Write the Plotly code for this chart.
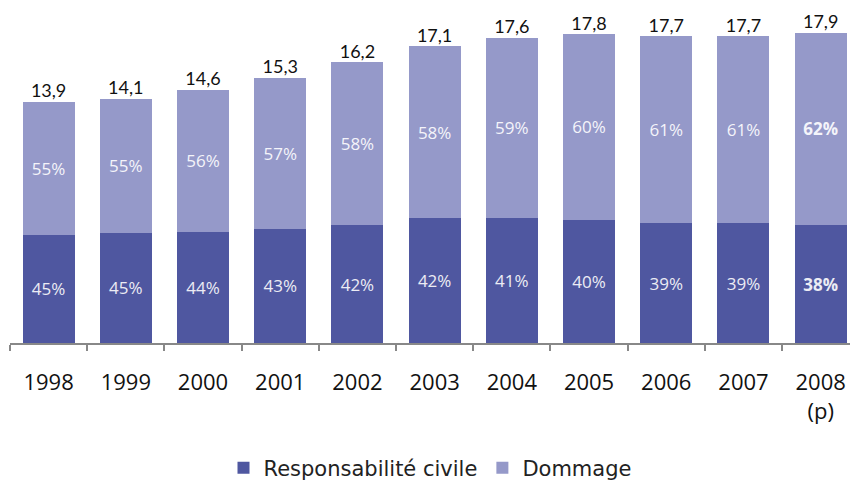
import plotly.graph_objects as go

years = ["1998", "1999", "2000", "2001", "2002", "2003", "2004", "2005", "2006", "2007", "2008"]
tick_labels = ["1998", "1999", "2000", "2001", "2002", "2003", "2004", "2005", "2006", "2007", "2008<br>(p)"]
totals = [13.9, 14.1, 14.6, 15.3, 16.2, 17.1, 17.6, 17.8, 17.7, 17.7, 17.9]
pct_rc = [45, 45, 44, 43, 42, 42, 41, 40, 39, 39, 38]
pct_dom = [55, 55, 56, 57, 58, 58, 59, 60, 61, 61, 62]

rc_vals = [t * p / 100 for t, p in zip(totals, pct_rc)]
dom_vals = [t * p / 100 for t, p in zip(totals, pct_dom)]

def fmt_pct(vals):
    out = []
    for i, v in enumerate(vals):
        s = f"{v}%"
        if i == len(vals) - 1:
            s = f"<b>{s}</b>"
        out.append(s)
    return out

dark = "#4F57A0"
light = "#9599C9"

fig = go.Figure()
fig.add_trace(go.Bar(
    x=years, y=rc_vals, name="Responsabilité civile",
    marker=dict(color=dark, line=dict(width=0)),
    text=fmt_pct(pct_rc), textposition="inside", insidetextanchor="middle",
    textfont=dict(color="#ECECF4", size=17, family="Open Sans"),
    hoverinfo="skip",
))
fig.add_trace(go.Bar(
    x=years, y=dom_vals, name="Dommage",
    marker=dict(color=light, line=dict(width=0)),
    text=fmt_pct(pct_dom), textposition="inside", insidetextanchor="middle",
    textfont=dict(color="#F4F4FA", size=17, family="Open Sans"),
    hoverinfo="skip",
))
fig.add_trace(go.Scatter(
    x=years, y=totals, mode="text",
    text=[f"{t:.1f}".replace(".", ",") for t in totals],
    textposition="top center",
    textfont=dict(color="#111111", size=18, family="Lato"),
    showlegend=False, cliponaxis=False, hoverinfo="skip",
))

fig.update_layout(
    width=850, height=483,
    margin=dict(l=10, r=0, t=0, b=140, autoexpand=False),
    barmode="stack", bargap=0.326,
    plot_bgcolor="white", paper_bgcolor="white",
    showlegend=True,
    legend=dict(orientation="h", x=0.5, xanchor="center", y=-0.365, yanchor="middle",
                font=dict(size=21, family="DejaVu Sans", color="#222222"),
                itemwidth=30, traceorder="normal"),
    xaxis=dict(
        tickvals=years, ticktext=tick_labels,
        range=[-0.5, 10.38], automargin=False,
        tickson="boundaries", ticks="outside", ticklen=6, tickcolor="#888888", tickwidth=2,
        showline=True, linecolor="#888888", linewidth=2,
        ticklabelstandoff=19,
        tickfont=dict(size=22, family="Open Sans", color="#111111"),
        showgrid=False,
    ),
    yaxis=dict(range=[0, 19.78], visible=False, showgrid=False),
)

fig.write_html("out.html")
